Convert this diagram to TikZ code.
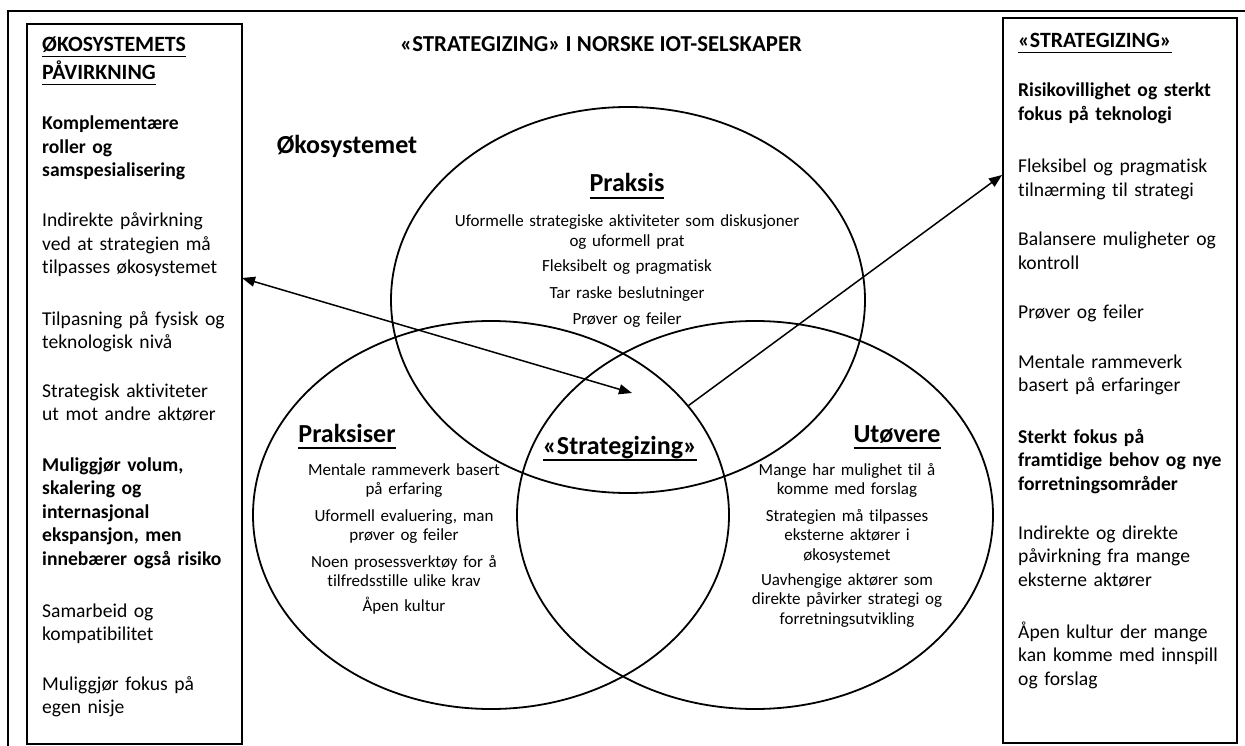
\documentclass[tikz,border=0pt]{standalone}
\usepackage{fontspec}
\setmainfont{Carlito}[Ligatures=NoCommon]
\usetikzlibrary{shapes.geometric,arrows.meta}
\newcommand\ulbox[3]{\leavevmode\setbox0=\hbox{#3}\rlap{\rule[-#1]{\wd0}{#2}}\box0}
\tikzset{
  panel/.style={rectangle, draw, line width=1.8pt, inner sep=0pt},
  venn/.style={ellipse, draw, line width=1.8pt, inner sep=0pt, minimum width=476pt, minimum height=388pt},
  boxtxt/.style={anchor=base west, align=left, inner sep=0pt, text width=230pt, font=\fontsize{19.6}{23.5}\selectfont},
  boxbold/.style={boxtxt, font=\fontsize{19.6}{23.5}\selectfont\bfseries},
  boxhead/.style={anchor=base west, align=left, inner sep=0pt, text width=230pt, font=\fontsize{21.8}{28}\selectfont\bfseries},
  circtxt/.style={anchor=base, align=center, inner sep=0pt, text width=400pt, font=\fontsize{17}{19.7}\selectfont},
  circhead/.style={anchor=base, inner sep=0pt, font=\fontsize{26}{30}\selectfont\bfseries},
  arr/.style={line width=1.5pt, -{Triangle[length=13pt,width=10pt]}},
  dblarr/.style={line width=1.5pt, {Triangle[length=13pt,width=10pt]}-{Triangle[length=13pt,width=10pt]}}
}
\begin{document}
\begin{tikzpicture}[x=1pt,y=-1pt]
\useasboundingbox (0,0) rectangle (1245,746);
\clip (0,0) rectangle (1245,746);
\fill[white] (0,0) rectangle (1245,746);
% outer frame
\draw[line width=1.3pt] (8,760) -- (8,11) -- (1260,11);

% side panels
\node[panel, minimum width=215pt, minimum height=720pt] (lbox) at (134.5,384) {};
\node[panel, minimum width=234pt, minimum height=725pt] (rbox) at (1120,380.5) {};

% venn circles
\node[venn, minimum width=474pt, minimum height=386pt] (topc) at (628,300) {};
\node[venn] (leftc) at (491,515) {};
\node[venn] (rightc) at (755,515) {};

% title
\node[anchor=base, inner sep=0pt, font=\fontsize{22.8}{27}\selectfont\bfseries] (title) at (601,52) {«STRATEGIZING» I NORSKE IOT-SELSKAPER};
\node[circhead] (oko) at (347,154) {Økosystemet};

% left panel text
\node[boxhead] (lh) at (42,52) {\ulbox{5.5pt}{1.5pt}{ØKOSYSTEMETS}\\\ulbox{5.5pt}{1.5pt}{PÅVIRKNING}};
\node[boxbold] (l1) at (42,130) {Komplementære\\roller og\\samspesialisering};
\node[boxtxt] (l2) at (42,227) {Indirekte påvirkning\\ved at strategien må\\tilpasses økosystemet};
\node[boxtxt] (l3) at (42,325) {Tilpasning på fysisk og\\teknologisk nivå};
\node[boxtxt] (l4) at (42,397) {Strategisk aktiviteter\\ut mot andre aktører};
\node[boxbold] (l5) at (42,471) {Muliggjør volum,\\skalering og\\internasjonal\\ekspansjon, men\\innebærer også risiko};
\node[boxtxt] (l6) at (42,617) {Samarbeid og\\kompatibilitet};
\node[boxtxt] (l7) at (42,690) {Muliggjør fokus på\\egen nisje};

% right panel text
\node[boxhead] (rh) at (1018,48) {\ulbox{5.5pt}{1.5pt}{«STRATEGIZING»}};
\node[boxbold] (r1) at (1018,97) {Risikovillighet og sterkt\\fokus på teknologi};
\node[boxtxt] (r2) at (1018,173) {Fleksibel og pragmatisk\\tilnærming til strategi};
\node[boxtxt] (r3) at (1018,246) {Balansere muligheter og\\kontroll};
\node[boxtxt] (r4) at (1018,318) {Prøver og feiler};
\node[boxtxt] (r5) at (1018,368) {Mentale rammeverk\\basert på erfaringer};
\node[boxbold] (r6) at (1018,443) {Sterkt fokus på\\framtidige behov og nye\\forretningsområder};
\node[boxtxt] (r7) at (1018,539) {Indirekte og direkte\\påvirkning fra mange\\eksterne aktører};
\node[boxtxt] (r8) at (1018,638) {Åpen kultur der mange\\kan komme med innspill\\og forslag};

% top circle text
\node[circhead] (ph) at (627,192) {\ulbox{7pt}{2pt}{Praksis}};
\node[circtxt] (p1) at (627,227) {Uformelle strategiske aktiviteter som diskusjoner\\og uformell prat};
\node[circtxt] (p2) at (627,272) {Fleksibelt og pragmatisk};
\node[circtxt] (p3) at (627,298) {Tar raske beslutninger};
\node[circtxt] (p4) at (627,324) {Prøver og feiler};

% left circle text
\node[circhead] (sh) at (347,442) {\ulbox{7pt}{2pt}{Praksiser}};
\node[circtxt] (s1) at (404,475) {Mentale rammeverk basert\\på erfaring};
\node[circtxt] (s2) at (404,521) {Uformell evaluering, man\\prøver og feiler};
\node[circtxt] (s3) at (404,567) {Noen prosessverktøy for å\\tilfredsstille ulike krav};
\node[circtxt] (s4) at (404,611) {Åpen kultur};

% right circle text
\node[circhead] (uh) at (897,442) {\ulbox{7pt}{2pt}{Utøvere}};
\node[circtxt] (u1) at (847,475) {Mange har mulighet til å\\komme med forslag};
\node[circtxt] (u2) at (847,521) {Strategien må tilpasses\\eksterne aktører i\\økosystemet};
\node[circtxt] (u3) at (847,585) {Uavhengige aktører som\\direkte påvirker strategi og\\forretningsutvikling};

% centre
\node[circhead] (ch) at (620,454) {\ulbox{7pt}{2pt}{«Strategizing»}};

% arrows
\coordinate (a1l) at (242,278);
\coordinate (a1r) at (632,393);
\coordinate (a2r) at (1002,175);
\draw[dblarr] (a1l) -- (a1r);
\draw[arr] (leftc.29) -- (a2r);
\end{tikzpicture}
\end{document}
